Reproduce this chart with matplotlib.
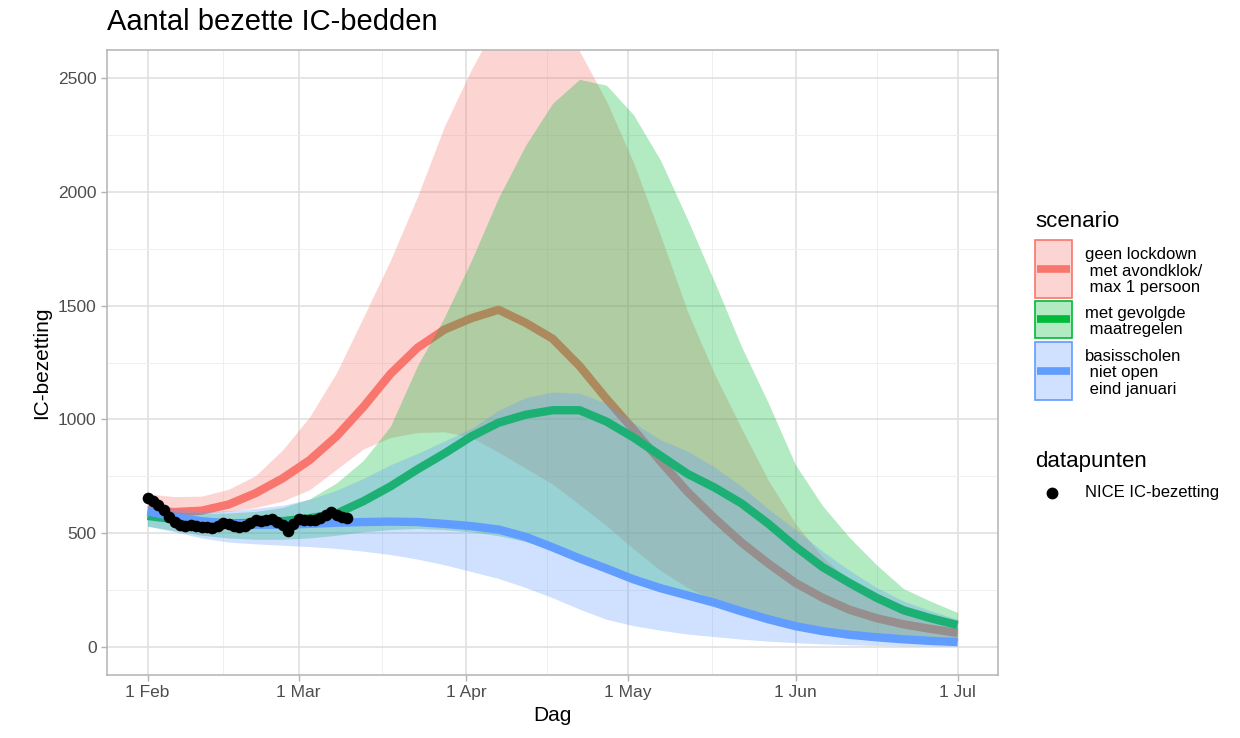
import numpy as np
import matplotlib.pyplot as plt
from matplotlib.patches import Rectangle
from matplotlib.lines import Line2D
from matplotlib.colors import to_rgba

plt.rcParams['font.family'] = ['Liberation Sans', 'DejaVu Sans']

# modelberekening, elke 5 dagen vanaf 1 februari
start = np.datetime64('2021-02-01')
dagen = np.arange(0, 151, 5)

# geen lockdown met avondklok / max 1 persoon
rood_mid = [600, 592, 598, 625, 675, 740, 820, 925, 1055, 1200, 1315, 1395, 1445, 1482, 1425, 1355,
            1235, 1090, 955, 815, 681, 565, 458, 365, 280, 215, 162, 125, 98, 78, 60]
rood_laag = [590, 583, 585, 595, 612, 640, 690, 780, 870, 920, 942, 945, 920, 855, 785, 715,
             625, 532, 430, 335, 260, 205, 160, 122, 92, 72, 56, 45, 36, 28, 22]
rood_hoog = [672, 660, 662, 692, 752, 865, 1010, 1205, 1450, 1700, 1980, 2290, 2540, 2760, 2870, 2800,
             2620, 2400, 2130, 1810, 1475, 1200, 960, 730, 540, 395, 290, 215, 160, 125, 100]

# met gevolgde maatregelen
groen_mid = [575, 560, 548, 542, 545, 552, 565, 585, 640, 705, 780, 850, 925, 985, 1020, 1040,
             1040, 990, 920, 840, 760, 700, 630, 540, 440, 350, 280, 215, 160, 125, 95]
groen_laag = [530, 510, 490, 478, 472, 472, 478, 490, 505, 515, 520, 515, 505, 488, 462, 428,
              385, 342, 298, 258, 222, 190, 160, 132, 108, 86, 67, 52, 40, 30, 22]
groen_hoog = [605, 592, 585, 588, 595, 612, 650, 720, 820, 970, 1236, 1450, 1700, 1975, 2205, 2390,
              2496, 2470, 2340, 2140, 1880, 1605, 1320, 1070, 800, 620, 480, 360, 255, 200, 150]

# basisscholen niet open eind januari
blauw_mid = [595, 570, 552, 541, 536, 536, 540, 545, 548, 550, 548, 540, 530, 515, 483, 437,
             388, 343, 296, 257, 225, 193, 155, 120, 90, 68, 52, 41, 32, 25, 20]
blauw_laag = [530, 505, 478, 460, 452, 446, 440, 432, 420, 405, 385, 360, 330, 300, 260, 215,
              165, 120, 92, 72, 55, 44, 33, 24, 17, 12, 8, 5, 3, 2, 1]
blauw_hoog = [625, 605, 595, 598, 608, 622, 648, 688, 740, 800, 850, 905, 960, 1040, 1095, 1120,
              1115, 1070, 985, 910, 860, 790, 705, 605, 515, 420, 335, 260, 200, 158, 120]

# NICE IC-bezetting, dagelijks vanaf 1 februari
nice = [655, 640, 625, 600, 572, 548, 535, 530, 533, 532, 528, 525, 520, 530, 545, 540, 530, 525, 530,
        545, 558, 552, 555, 562, 550, 535, 510, 540, 562, 558, 555, 558, 565, 578, 592, 580, 572, 565]

scenario_labels = ['geen lockdown\n met avondklok/\n max 1 persoon',
                   'met gevolgde\n maatregelen',
                   'basisscholen\n niet open\n eind januari']
scenario_kleuren = ['#F8766D', '#00BA38', '#619CFF']

maand_starts = np.array(['2021-02-01', '2021-03-01', '2021-04-01', '2021-05-01',
                         '2021-06-01', '2021-07-01'], dtype='datetime64[D]')
maand_labels = ['1 Feb', '1 Mar', '1 Apr', '1 May', '1 Jun', '1 Jul']

datums = start + dagen.astype('timedelta64[D]')
nice_datums = start + np.arange(len(nice)).astype('timedelta64[D]')

W, H = 1240, 738
fig = plt.figure(figsize=(W / 100, H / 100), dpi=100)
ax = fig.add_axes([107 / W, 1 - 675 / H, (998 - 107) / W, (675 - 50) / H])

# per scenario eerst de band, dan de lijn; latere banden liggen over eerdere lijnen
reeksen = [(rood_laag, rood_hoog, rood_mid),
           (groen_laag, groen_hoog, groen_mid),
           (blauw_laag, blauw_hoog, blauw_mid)]
for i, ((laag, hoog, mid), kleur) in enumerate(zip(reeksen, scenario_kleuren)):
    ax.fill_between(datums, laag, hoog, color=kleur, alpha=0.3, lw=0, zorder=3 + 2 * i)
    ax.plot(datums, mid, color=kleur, lw=6, solid_capstyle='butt', zorder=4 + 2 * i)

ax.scatter(nice_datums, nice, s=70, color='black', zorder=20, lw=0)

# assen
ms = maand_starts.astype('datetime64[h]')
tussen = ms[:-1] + (ms[1:] - ms[:-1]) / 2
ax.set_xticks(maand_starts, maand_labels)
ax.set_xticks(tussen, minor=True)
ax.set_yticks([0, 500, 1000, 1500, 2000, 2500])
ax.set_yticks([250, 750, 1250, 1750, 2250], minor=True)
ax.set_xlim(np.datetime64('2021-01-24T12'), np.datetime64('2021-07-08T12'))
ax.set_ylim(-125, 2625)

ax.grid(which='major', color='#DEDEDE', lw=1.1, zorder=0)
ax.grid(which='minor', color='#EFEFEF', lw=0.7, zorder=0)
ax.set_axisbelow(True)
for s in ax.spines.values():
    s.set_color('#B3B3B3')
    s.set_linewidth(1.1)
    s.set_zorder(30)
ax.tick_params(which='major', length=4.5, width=1, color='#B3B3B3',
               labelsize=12.5, labelcolor='#4D4D4D', pad=3)
ax.tick_params(which='minor', length=0)

ax.set_xlabel('Dag', fontsize=15, labelpad=4)
ax.set_ylabel('IC-bezetting', fontsize=15, labelpad=5)
fig.text(107 / W, 1 - 22 / H, 'Aantal bezette IC-bedden', fontsize=21, va='center', ha='left')


# legenda
def fx(x):
    return x / W


def fy(y):
    return 1 - y / H


fig.text(fx(1035), fy(227), 'scenario', fontsize=16, va='baseline')
sleutels = [(240, 298), (301, 338), (342, 400)]
for (top, bodem), kleur, label in zip(sleutels, scenario_kleuren, scenario_labels):
    fig.add_artist(Rectangle((fx(1035), fy(bodem)), 37 / W, (bodem - top) / H,
                             transform=fig.transFigure, facecolor=to_rgba(kleur, 0.3),
                             edgecolor=kleur, lw=1.2))
    midden = (top + bodem) / 2
    fig.add_artist(Line2D([fx(1037), fx(1070)], [fy(midden)] * 2, transform=fig.transFigure,
                          color=kleur, lw=5.5, solid_capstyle='butt'))
    fig.text(fx(1085), fy(midden + 2), label, fontsize=12, va='center', ha='left',
             linespacing=1.15)

fig.text(fx(1035), fy(467), 'datapunten', fontsize=16, va='baseline')
fig.add_artist(Line2D([fx(1052)], [fy(493)], transform=fig.transFigure, marker='o',
                      ms=7.5, color='black', ls='none'))
fig.text(fx(1085), fy(493), 'NICE IC-bezetting', fontsize=12, va='center', ha='left')

fig.savefig('out.png', dpi=100, facecolor='white')
